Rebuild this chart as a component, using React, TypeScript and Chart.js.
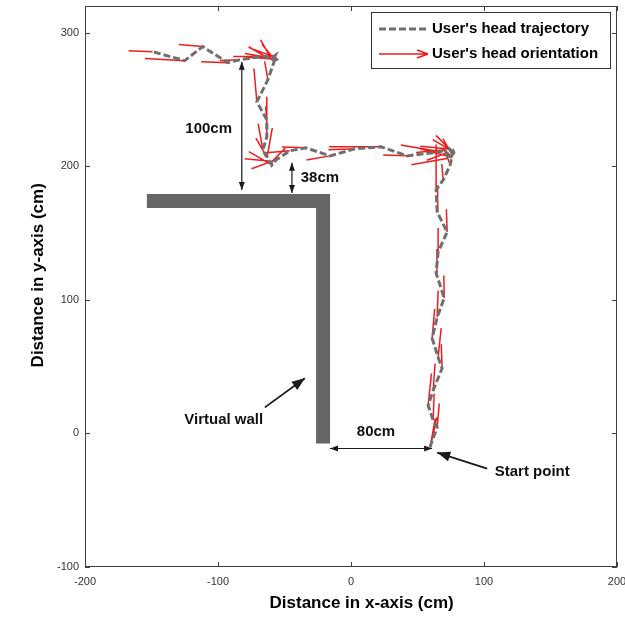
import React, { useEffect, useRef } from 'react';
import { Chart, registerables } from 'chart.js';
Chart.register(...registerables);

// ---------- data (cm) ----------
const trajX = [
  59.5, 60.3, 64.8, 61.8, 58, 61.8, 68.5, 65.5, 61, 64.8, 70.1, 64, 65.5, 72.3, 64.8, 64, 69.3, 74.6, 76.1,
  77, 78, 74, 72, 75, 73, 70.8, 67,
  42.2, 22.6, 3, -15.8, -33.9, -46,
  -56, -59.5, -60, -62, -63, -64, -66.3,
  -63.3, -63.3, -70.8, -62.5, -57.3,
  -58, -56, -59, -57, -60, -64,
  -68.5, -83.6, -92.7, -111.5, -125, -149.2,
];
const trajY = [
  -10.5, -7.5, 4.5, 9.8, 21, 32.3, 48.8, 57, 71.3, 87, 101.3, 120, 135.8, 150.8, 165.8, 182.3, 189.8, 201, 208.5,
  211, 209, 213, 210, 207, 206, 212.3, 210.8,
  207.8, 214.6, 213.1, 207.8, 213.8, 211.6,
  205, 201, 203, 204, 207, 208, 212.3,
  222.1, 234.8, 248.3, 264.8, 279.8,
  282, 280, 279, 283, 281, 282,
  282.1, 279.8, 277.6, 289.6, 279.1, 285.8,
];
// head orientation (degrees, 0 = +x) and arrow length (cm)
const headDeg = [
  80, 78, 85, 88, 84, 86, 92, 84, 85, 88, 91, 88, 90, 92, 89, 90, 95, 110, 120,
  150, 135, 175, 200, 165, 190, 185, 170,
  178, 180, 182, 190, 178, 185,
  200, 150, 45, 175, 80, 120, 100,
  90, 95, 95, 100, 130,
  160, 175, 120, 185, 170, 150,
  180, 182, 178, 175, 177, 178,
];
const headLen = [
  22, 20, 18, 20, 24, 20, 18, 22, 22, 20, 17, 18, 18, 17, 20, 34, 12, 12, 14,
  18, 20, 22, 16, 25, 28, 22, 30,
  18, 39, 20, 18, 18, 20,
  20, 20, 15, 18, 22, 15, 20,
  30, 10, 25, 14, 15,
  20, 25, 18, 22, 20, 15,
  20, 15, 20, 18, 30, 18,
];
const wallX = [-153.5, -21, -21];
const wallY = [174, 174, -7.5];

const xTicks = [-200, -100, 0, 100, 200];
const yTicks = [-100, 0, 100, 200, 300];

// annotation arrows
const arrowX1 = [-82.1, -44.4, -15.8, -64.8, 102.4];
const arrowY1 = [278.3, 202.6, -11.3, 19.5, -26.3];
const arrowX2 = [-82.1, -44.4, 61, -34.7, 64.8];
const arrowY2 = [182.3, 180.0, -11.3, 41.3, -14.3];
const arrowBoth = [true, true, true, false, false];

const labelText = ['100cm', '38cm', '80cm', 'Virtual wall', 'Start point'];
const labelX = [-107, -23.4, 18.8, -95.7, 136.3];
const labelY = [228, 191.3, 1.5, 10.5, -28.5];

const legendLabels = ["User's head trajectory", "User's head orientation"];

// ---------- styles ----------
const GRAY = '#6f6f6f';
const RED = '#ee1c1c';
const WALL = '#666666';
const FONT = '"Liberation Sans", Arial, Helvetica, sans-serif';

function arrowHead(ctx: CanvasRenderingContext2D, x1: number, y1: number, x2: number, y2: number, len: number, w: number) {
  const a = Math.atan2(y2 - y1, x2 - x1);
  const bx = x2 - len * Math.cos(a);
  const by = y2 - len * Math.sin(a);
  ctx.beginPath();
  ctx.moveTo(x2, y2);
  ctx.lineTo(bx + w * Math.sin(a), by - w * Math.cos(a));
  ctx.lineTo(bx - w * Math.sin(a), by + w * Math.cos(a));
  ctx.closePath();
  ctx.fill();
}

const overlay = {
  id: 'overlay',
  afterDatasetsDraw(chart: any) {
    const { ctx, chartArea: a, scales } = chart;
    const x = scales.x;
    const y = scales.y;
    ctx.save();
    // frame
    ctx.strokeStyle = '#404040';
    ctx.lineWidth = 1;
    ctx.strokeRect(a.left + 0.5, a.top + 0.5, a.right - a.left - 1, a.bottom - a.top - 1);
    ctx.beginPath();
    xTicks.forEach((v) => {
      const px = Math.round(x.getPixelForValue(v)) + 0.5;
      ctx.moveTo(px, a.bottom); ctx.lineTo(px, a.bottom - 5);
      ctx.moveTo(px, a.top); ctx.lineTo(px, a.top + 5);
    });
    yTicks.forEach((v) => {
      const py = Math.round(y.getPixelForValue(v)) + 0.5;
      ctx.moveTo(a.left, py); ctx.lineTo(a.left + 5, py);
      ctx.moveTo(a.right, py); ctx.lineTo(a.right - 5, py);
    });
    ctx.stroke();

    // annotation arrows
    ctx.strokeStyle = '#1a1a1a';
    ctx.fillStyle = '#1a1a1a';
    arrowX1.forEach((_, i) => {
      const x1 = x.getPixelForValue(arrowX1[i]);
      const y1 = y.getPixelForValue(arrowY1[i]);
      const x2 = x.getPixelForValue(arrowX2[i]);
      const y2 = y.getPixelForValue(arrowY2[i]);
      const big = !arrowBoth[i];
      ctx.lineWidth = big ? 1.8 : 1.2;
      ctx.beginPath();
      ctx.moveTo(x1, y1);
      ctx.lineTo(x2, y2);
      ctx.stroke();
      if (big) {
        arrowHead(ctx, x1, y1, x2, y2, 13, 5);
      } else {
        arrowHead(ctx, x1, y1, x2, y2, 8, 3);
        arrowHead(ctx, x2, y2, x1, y1, 8, 3);
      }
    });

    // labels
    ctx.fillStyle = '#111';
    ctx.font = `bold 15px ${FONT}`;
    ctx.textAlign = 'center';
    ctx.textBaseline = 'middle';
    labelText.forEach((t, i) => {
      ctx.fillText(t, x.getPixelForValue(labelX[i]), y.getPixelForValue(labelY[i]));
    });

    // axis titles
    ctx.font = `bold 17px ${FONT}`;
    ctx.fillStyle = '#000';
    ctx.fillText('Distance in x-axis (cm)', a.left + (a.right - a.left) * 0.52, chart.height - 15);
    ctx.save();
    ctx.translate(38, a.top + (a.bottom - a.top) * 0.48);
    ctx.rotate(-Math.PI / 2);
    ctx.fillText('Distance in y-axis (cm)', 0, 0);
    ctx.restore();

    // legend
    const lx = a.right - 246;
    const ly = a.top + 6;
    const lw = 239;
    const lh = 56;
    ctx.fillStyle = '#fff';
    ctx.fillRect(lx, ly, lw, lh);
    ctx.strokeStyle = '#333';
    ctx.lineWidth = 1;
    ctx.strokeRect(lx + 0.5, ly + 0.5, lw, lh);
    // trajectory sample
    ctx.strokeStyle = GRAY;
    ctx.lineWidth = 3;
    ctx.setLineDash([7, 3]);
    ctx.beginPath();
    ctx.moveTo(lx + 8, ly + 17);
    ctx.lineTo(lx + 57, ly + 17);
    ctx.stroke();
    ctx.setLineDash([]);
    // orientation sample
    ctx.strokeStyle = RED;
    ctx.lineWidth = 1.5;
    ctx.beginPath();
    ctx.moveTo(lx + 8, ly + 42);
    ctx.lineTo(lx + 57, ly + 42);
    ctx.moveTo(lx + 57, ly + 42);
    ctx.lineTo(lx + 46, ly + 38);
    ctx.moveTo(lx + 57, ly + 42);
    ctx.lineTo(lx + 46, ly + 46);
    ctx.stroke();
    ctx.fillStyle = '#000';
    ctx.font = `bold 15px ${FONT}`;
    ctx.textAlign = 'left';
    ctx.fillText(legendLabels[0], lx + 61, ly + 17);
    ctx.fillText(legendLabels[1], lx + 61, ly + 42);
    ctx.restore();
  },
};

export default function App() {
  const ref = useRef<HTMLCanvasElement>(null);
  useEffect(() => {
    document.body.style.margin = '0';
    const traj = trajX.map((v, i) => ({ x: v, y: trajY[i] }));
    const heads: { x: number; y: number | null }[] = [];
    trajX.forEach((v, i) => {
      const r = (headDeg[i] * Math.PI) / 180;
      heads.push({ x: v, y: trajY[i] });
      heads.push({ x: v + headLen[i] * Math.cos(r), y: trajY[i] + headLen[i] * Math.sin(r) });
      heads.push({ x: v, y: null });
    });
    const wall = wallX.map((v, i) => ({ x: v, y: wallY[i] }));

    const chart = new Chart(ref.current!, {
      type: 'line',
      data: {
        datasets: [
          {
            label: 'Virtual wall',
            data: wall,
            borderColor: WALL,
            borderWidth: 14,
            borderCapStyle: 'butt',
            borderJoinStyle: 'miter',
            pointRadius: 0,
            tension: 0,
          },
          {
            label: legendLabels[0],
            data: traj,
            borderColor: GRAY,
            borderWidth: 3,
            borderDash: [7, 3],
            pointRadius: 0,
            tension: 0,
          },
          {
            label: legendLabels[1],
            data: heads as any,
            borderColor: RED,
            borderWidth: 1.5,
            pointRadius: 0,
            spanGaps: false,
            tension: 0,
          },
        ],
      },
      options: {
        responsive: false,
        devicePixelRatio: 1,
        animation: false,
        events: [],
        layout: { padding: { top: 6, right: 8, left: 0, bottom: 0 } },
        plugins: { legend: { display: false }, tooltip: { enabled: false } },
        scales: {
          x: {
            type: 'linear',
            min: -200,
            max: 200,
            grid: { display: false, drawTicks: false },
            border: { display: false },
            afterBuildTicks: (s: any) => { s.ticks = xTicks.map((v) => ({ value: v })); },
            afterFit: (s: any) => { s.height = 51; s.paddingLeft = 0; s.paddingRight = 0; },
            ticks: { padding: 8, maxRotation: 0, font: { family: FONT, size: 11 }, color: '#333' },
          },
          y: {
            type: 'linear',
            min: -100,
            max: 320,
            grid: { display: false, drawTicks: false },
            border: { display: false },
            afterBuildTicks: (s: any) => { s.ticks = yTicks.map((v) => ({ value: v })); },
            afterFit: (s: any) => { s.width = 85; s.paddingTop = 0; s.paddingBottom = 0; },
            ticks: { padding: 6, font: { family: FONT, size: 11 }, color: '#333' },
          },
        },
      },
      plugins: [overlay],
    } as any);
    return () => chart.destroy();
  }, []);
  return (
    <div style={{ width: 625, height: 618, background: '#fff' }}>
      <canvas ref={ref} width={625} height={618} style={{ display: 'block' }} />
    </div>
  );
}
